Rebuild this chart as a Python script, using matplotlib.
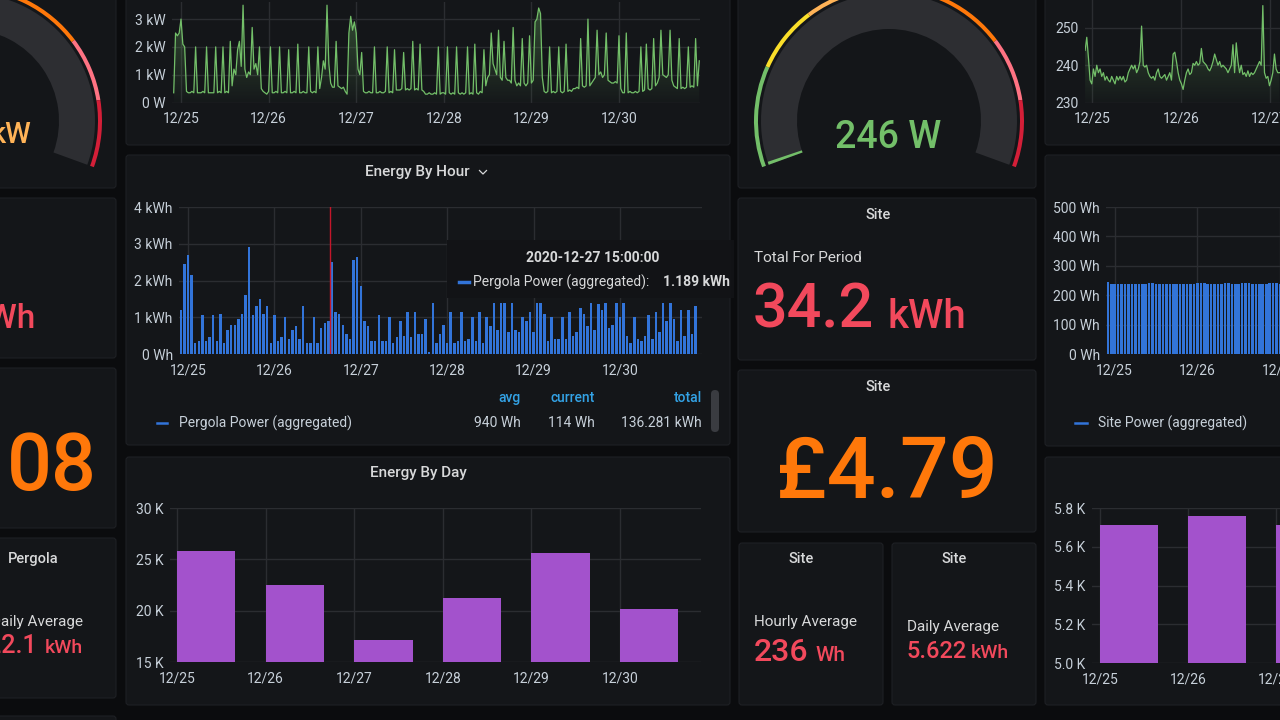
import numpy as np
import matplotlib
matplotlib.use("Agg")
import matplotlib.pyplot as plt
from matplotlib.patches import FancyBboxPatch, Wedge, Rectangle
from matplotlib.colors import to_rgb

plt.rcParams['font.family'] = ['Roboto', 'DejaVu Sans']

W, H = 1280, 720
BG = '#0b0c0e'
PANEL = '#141619'
BORDER = '#1e2024'
GRID = '#2b2d31'
TICK = '#c7d0d9'
TITLE = '#d8d9da'
GREEN = '#73bf69'
BLUE = '#3274d9'
PURPLE = '#a352cc'
RED = '#f2495c'
ORANGE = '#ff780a'
LORANGE = '#ffb357'
HEAD = '#33a2e5'

day_labels = ['12/25', '12/26', '12/27', '12/28', '12/29', '12/30']

# pergola power (kW), one reading every 30 min from 12/24 22:00
power_start_h = -2.0
power_kw = [
    0.35, 2.5, 2.4, 2.5,
    # 12/25
    3.0, 2.1, 2.0, 0.4, 0.35, 0.35, 0.4, 0.35, 2.0, 0.35, 0.35, 0.35,
    0.4, 0.35, 2.0, 0.35, 0.35, 0.35, 0.35, 2.0, 0.35, 0.4, 0.35, 2.0,
    0.35, 0.4, 0.35, 2.2, 0.6, 1.2, 1.0, 1.9, 2.2, 1.3, 3.5, 1.2,
    0.9, 1.1, 1.0, 2.7, 1.2, 1.4, 1.0, 2.0, 0.5, 0.4, 0.35, 0.3,
    # 12/26
    0.4, 2.0, 0.35, 0.35, 0.4, 0.35, 2.0, 0.35, 0.35, 0.4, 0.35, 1.9,
    0.35, 0.35, 0.4, 0.35, 2.1, 0.35, 0.35, 0.4, 0.35, 0.35, 2.0, 0.4,
    0.35, 0.4, 0.35, 2.0, 0.5, 0.9, 1.5, 1.2, 3.5, 1.4, 0.7, 0.55,
    0.55, 2.2, 0.6, 0.55, 0.5, 0.55, 0.4, 0.3, 2.5, 3.1, 2.6, 2.9,
    # 12/27
    2.5, 1.2, 1.0, 1.8, 0.4, 0.35, 0.35, 0.4, 0.35, 0.35, 2.0, 0.35,
    0.35, 0.4, 0.35, 0.35, 0.4, 2.0, 0.35, 0.4, 0.35, 1.9, 0.45, 0.45,
    0.45, 0.5, 1.8, 0.45, 0.5, 0.45, 0.5, 2.2, 0.45, 0.5, 0.45, 2.1,
    0.45, 0.4, 0.3, 0.3, 0.35, 0.3, 0.3, 0.35, 0.3, 2.0, 0.3, 0.35,
    # 12/28
    0.35, 0.3, 2.0, 0.35, 0.3, 0.35, 0.3, 2.0, 0.35, 0.3, 0.35, 0.3,
    0.35, 2.0, 0.3, 0.35, 0.3, 2.1, 0.35, 0.3, 0.4, 0.35, 1.9, 0.6,
    0.9, 1.0, 2.5, 1.4, 1.2, 1.0, 2.6, 0.9, 0.8, 2.2, 0.9, 0.8,
    0.8, 0.7, 2.7, 0.8, 0.6, 0.7, 0.6, 2.3, 0.7, 0.6, 0.7, 2.4,
    # 12/29
    0.7, 0.8, 2.9, 3.0, 3.4, 3.2, 0.9, 0.4, 0.35, 0.4, 2.0, 0.35,
    0.4, 0.35, 0.4, 2.0, 0.4, 0.35, 0.4, 2.1, 0.4, 0.45, 0.4, 0.5,
    0.5, 0.55, 0.5, 2.3, 0.6, 0.55, 0.6, 3.0, 0.6, 0.7, 0.8, 0.9,
    2.6, 1.0, 1.1, 0.9, 1.0, 2.5, 0.8, 0.75, 0.7, 0.7, 0.75, 0.7,
    # 12/30
    2.4, 0.5, 0.35, 0.35, 2.5, 0.35, 0.4, 0.35, 0.35, 0.4, 0.35, 0.4,
    2.0, 0.4, 0.45, 2.1, 0.5, 0.45, 0.5, 2.3, 0.6, 0.7, 0.9, 2.6,
    1.0, 0.95, 0.9, 1.0, 2.6, 0.8, 0.6, 0.55, 0.5, 2.3, 0.5, 0.55,
    0.5, 0.55, 2.0, 0.55, 0.6, 0.55, 2.3, 0.6, 1.5,
]

# pergola energy by hour (kWh), hourly from 12/24 22:00
hour_start_h = -2
hour_kwh = [
    1.2, 2.45, 2.7, 2.15, 0.3, 0.35, 1.05, 0.35, 0.45, 1.05,
    0.35, 1.1, 0.3, 0.65, 0.8, 0.8, 0.95, 1.1, 1.6, 2.9,
    1.05, 1.3, 1.5, 1.1, 1.3, 0.3, 1.05, 0.35, 0.45, 1.0,
    0.4, 0.65, 0.75, 0.4, 1.3, 0.3, 0.3, 1.0, 0.3, 0.7,
    0.85, 0.9, 2.5, 1.15, 1.1, 0.8, 0.55, 0.4, 2.55, 2.65,
    1.85, 0.9, 0.75, 0.35, 0.35, 1.05, 0.35, 0.35, 1.0, 0.3,
    0.45, 0.9, 0.5, 1.15, 0.45, 1.15, 0.55, 0.55, 0.95, 0.05,
    1.4, 0.3, 0.55, 0.8, 0.3, 1.15, 0.3, 0.35, 1.15, 0.35,
    0.4, 1.0, 0.35, 1.15, 0.3, 1.0, 0.75, 1.4, 0.65, 1.4,
    1.4, 0.6, 1.4, 0.65, 0.6, 1.0, 0.9, 1.15, 0.6, 1.4,
    1.4, 1.1, 0.35, 1.0, 0.4, 0.4, 1.0, 0.4, 1.15, 0.5,
    0.6, 1.25, 1.1, 0.75, 1.4, 0.65, 1.35, 1.2, 1.4, 0.7,
    0.8, 1.4, 1.0, 1.4, 0.5, 0.3, 1.0, 0.4, 0.35, 0.5,
    1.05, 0.4, 1.15, 0.6, 1.4, 0.9, 1.4, 0.95, 0.35, 1.2,
    0.5, 1.2, 0.55, 1.3,
]
cursor_h = 39.4

# pergola energy by day (Wh)
day_wh = [25800, 22500, 17100, 21200, 25600, 20200]

# site voltage (V), one reading every 27 min from 12/24 22:00
volt_start_h = -2.0
volt_step_h = 0.45
volts = [
    244, 247.5, 242, 236, 235, 239, 237, 240, 238, 239,
    237, 238, 236, 237, 236, 235.5, 237, 236, 235, 237,
    236, 237, 236, 237, 235.5, 236, 238, 239, 240, 239,
    240, 238, 239, 241, 250.5, 240, 239.5, 240, 238, 237,
    236.5, 237, 236, 238, 239, 237, 236.5, 237, 237.5, 236,
    237, 238, 236, 243, 243.5, 241, 238, 236, 235, 233.5,
    236, 238, 239, 237.5, 238, 240.5, 240, 241, 240, 240.5,
    244.5, 241, 240.5, 240, 239, 238.5, 239.5, 241, 243, 241.5,
    240, 241, 239.5, 240, 239.5, 239, 238, 239, 240, 245.5,
    238, 246, 241, 238, 240, 237.5, 238, 237, 238.5, 237,
    238, 237.5, 238, 239, 240, 241, 240, 256, 238, 236.5,
    237, 234.5, 236, 238, 243, 239, 238, 238,
]

# site energy by hour (Wh), hourly from 12/24 22:00
site_start_h = -2
site_wh = [
    244, 238, 238, 238, 238, 238, 238, 237, 237, 238,
    238, 239, 240, 241, 239, 238, 238, 238, 237, 237,
    238, 239, 239, 237, 238, 239, 240, 240, 240, 239,
    239, 239, 239, 239, 240, 240, 239, 238, 239, 240,
    241, 240, 239, 238, 238, 238, 239, 240, 243, 241,
    239, 238,
]

# site energy by day (Wh)
site_day_wh = [5710, 5760, 5710]

fig = plt.figure(figsize=(W / 100, H / 100), dpi=100, facecolor=BG)

base = fig.add_axes([0, 0, 1, 1])
base.set_xlim(0, W)
base.set_ylim(H, 0)
base.axis('off')

panels = [
    (-10, -10, 116, 188), (-10, 198, 116, 358), (-10, 368, 116, 528),
    (-10, 538, 116, 698), (-10, 716, 116, 740),
    (126, -10, 730, 145), (126, 155, 730, 445), (126, 457, 730, 705),
    (738, -10, 1036, 188), (738, 198, 1036, 360), (738, 370, 1036, 532),
    (739, 543, 883, 705), (892, 543, 1036, 705),
    (1045, -10, 1290, 145), (1045, 155, 1290, 446), (1045, 457, 1290, 705),
]
for x0, y0, x1, y1 in panels:
    base.add_patch(FancyBboxPatch((x0, y0), x1 - x0, y1 - y0,
                                  boxstyle='round,pad=0,rounding_size=3',
                                  fc=PANEL, ec=BORDER, lw=0.8))


def arc(cx, cy, r, width, lo, hi, color):
    # angles are screen angles (counter-clockwise, y axis points down here)
    base.add_patch(Wedge((cx, cy), r, -hi, -lo, width=width, fc=color, lw=0))


def gauge(cx, cy, fill_to, fill_color):
    bands = [(156, 200, GREEN), (127, 156, '#fade2a'), (90, 127, LORANGE),
             (37, 90, ORANGE), (9, 37, '#ff7383'), (-20, 9, '#d41f38')]
    for lo, hi, c in bands:
        arc(cx, cy, 135, 4, lo, hi, c)
    arc(cx, cy, 128, 36, -20, 200, '#2d2e32')
    arc(cx, cy, 128, 36, fill_to, 200, fill_color)


gauge(-33, 121, 115, LORANGE)
gauge(889, 121, 198.6, GREEN)


def chart(x0, y0, x1, y1):
    ax = fig.add_axes([x0 / W, 1 - y1 / H, (x1 - x0) / W, (y1 - y0) / H])
    ax.patch.set_alpha(0)
    for s in ax.spines.values():
        s.set_visible(False)
    ax.tick_params(length=0, labelsize=10, labelcolor=TICK)
    ax.tick_params(axis='y', pad=4.5)
    ax.tick_params(axis='x', pad=6.5)
    ax.grid(True, color=GRID, lw=1)
    ax.set_axisbelow(True)
    return ax


def gradient_fill(ax, x, y, color, y0, y1):
    poly = ax.fill_between(x, y, y0, facecolor='none', edgecolor='none')
    rgba = np.zeros((100, 1, 4))
    rgba[:, :, :3] = to_rgb(color)
    rgba[:, 0, 3] = np.linspace(0.02, 0.35, 100)
    im = ax.imshow(rgba, extent=[x[0], x[-1], y0, y1], origin='lower',
                   aspect='auto', zorder=1)
    im.set_clip_path(poly.get_paths()[0], transform=ax.transData)


# pergola power line
ax = chart(172, 2, 700, 102.5)
t = power_start_h + 0.5 * np.arange(len(power_kw))
gradient_fill(ax, t, power_kw, GREEN, 0, 3.6)
ax.plot(t, power_kw, color=GREEN, lw=0.9, zorder=2)
ax.set_xlim(-2.47, 142.2)
ax.set_ylim(0, 3.615)
ax.set_xticks(24 * np.arange(6), day_labels)
ax.set_yticks([0, 1, 2, 3], ['0 W', '1 kW', '2 kW', '3 kW'])

# energy by hour
ax = chart(179, 207, 702, 354)
hx = hour_start_h + np.arange(len(hour_kwh))
ax.bar(hx, hour_kwh, width=0.7, color=BLUE, zorder=2)
ax.axvline(cursor_h, color='#c4162a', lw=1, zorder=3)
ax.set_xlim(-2.5, 142.8)
ax.set_ylim(0, 4)
ax.set_xticks(24 * np.arange(6), day_labels)
ax.set_yticks([0, 1, 2, 3, 4], ['0 Wh', '1 kWh', '2 kWh', '3 kWh', '4 kWh'])

# energy by day
ax = chart(170, 508, 701, 662)
ax.bar(np.arange(len(day_wh)), day_wh, width=0.66, align='edge',
       color=PURPLE, zorder=2)
ax.set_xlim(-0.079, 5.914)
ax.set_ylim(15000, 30000)
ax.set_xticks(np.arange(6), day_labels)
ax.set_yticks([15000, 20000, 25000, 30000], ['15 K', '20 K', '25 K', '30 K'])

# site voltage
ax = chart(1085, 0, 1280, 102.5)
vt = volt_start_h + volt_step_h * np.arange(len(volts))
gradient_fill(ax, vt, volts, GREEN, 230, 257.5)
ax.plot(vt, volts, color=GREEN, lw=0.9, zorder=2)
ax.set_xlim(-2.03, 50.8)
ax.set_ylim(230, 257.5)
ax.set_xticks([0, 24, 48], day_labels[:3])
ax.set_yticks([230, 240, 250], ['230', '240', '250'])

# site power by hour
ax = chart(1106, 207, 1280, 354)
sx = site_start_h + np.arange(len(site_wh))
ax.bar(sx, site_wh, width=0.75, color=BLUE, zorder=2)
ax.set_xlim(-2.54, 46.6)
ax.set_ylim(0, 500)
ax.set_xticks([0, 24, 48], day_labels[:3])
ax.set_yticks([0, 100, 200, 300, 400, 500],
              ['0 Wh', '100 Wh', '200 Wh', '300 Wh', '400 Wh', '500 Wh'])

# site energy by day
ax = chart(1092, 508, 1280, 663)
ax.bar(np.arange(len(site_day_wh)), site_day_wh, width=0.66, align='edge',
       color=PURPLE, zorder=2)
ax.set_xlim(-0.09, 2.045)
ax.set_ylim(5000, 5800)
ax.set_xticks([0, 1, 2], day_labels[:3])
ax.set_yticks([5000, 5200, 5400, 5600, 5800],
              ['5.0 K', '5.2 K', '5.4 K', '5.6 K', '5.8 K'])

# overlay for texts and tooltip
top = fig.add_axes([0, 0, 1, 1], zorder=10)
top.set_xlim(0, W)
top.set_ylim(H, 0)
top.axis('off')
top.patch.set_alpha(0)


def txt(x, y, s, size, color=TITLE, ha='left', va='baseline', weight='normal'):
    top.text(x, y, s, fontsize=size, color=color, ha=ha, va=va, fontweight=weight)


# panel titles
txt(417.5, 172, 'Energy By Hour', 11, ha='center', va='center', weight='medium')
top.plot([479.5, 483, 486.5], [170.5, 174, 170.5], color=TITLE, lw=0.9)
txt(418, 473, 'Energy By Day', 11, ha='center', va='center', weight='medium')
for x, y, s in [(878, 215, 'Site'), (878, 387, 'Site'), (801, 559, 'Site'),
                (954, 559, 'Site'), (33, 559, 'Pergola')]:
    txt(x, y, s, 10.5, ha='center', va='center', weight='medium')

# gauges
V = 'medium'
txt(31, 143, 'kW', 21, color=LORANGE, ha='right', weight=V)
txt(888, 148, '246 W', 27, color=GREEN, ha='center', weight=V)

# stats
txt(754, 258, 'Total For Period', 11, va='center')
txt(753, 328, '34.2', 44, color=RED, weight=V)
txt(888, 328, 'kWh', 29, color=RED, weight=V)
txt(887, 498, '£4.79', 62, color=ORANGE, ha='center', weight=V)
txt(754, 626, 'Hourly Average', 11)
txt(754, 661, '236', 23, color=RED, weight=V)
txt(815, 661, 'Wh', 15, color=RED, weight=V)
txt(907, 631, 'Daily Average', 11)
txt(906, 658, '5.622', 17, color=RED, weight=V)
txt(971, 658, 'kWh', 14, color=RED, weight=V)
txt(35, 328, 'kWh', 24, color=RED, ha='right', weight=V)
txt(97, 490, '08', 57, color=ORANGE, ha='right', weight=V)
txt(83, 626, 'Daily Average', 11, ha='right')
txt(37, 653, '22.1', 18, color=RED, ha='right', weight=V)
txt(45, 653, 'kWh', 14, color=RED, weight=V)

# legend of energy by hour
for x, s in [(521, 'avg'), (595, 'current'), (702, 'total')]:
    txt(x, 398, s, 10, color=HEAD, ha='right', va='center', weight='medium')
for x, s in [(521, '940 Wh'), (595, '114 Wh'), (702, '136.281 kWh')]:
    txt(x, 423, s, 10, color=TICK, ha='right', va='center')
top.plot([157, 167], [423, 423], color=BLUE, lw=1.8)
txt(179, 423, 'Pergola Power (aggregated)', 10, color=TICK, va='center')
top.add_patch(FancyBboxPatch((711, 390), 8, 42, boxstyle='round,pad=0,rounding_size=4',
                             fc='#3a3c41', lw=0))

# legend of site power
top.plot([1075, 1087], [423, 423], color=BLUE, lw=1.8)
txt(1098, 423, 'Site Power (aggregated)', 10, color=TICK, va='center')

# tooltip
top.add_patch(Rectangle((447, 240), 287, 58, fc='#121316', ec='none', alpha=0.97))
txt(593, 258, '2020-12-27 15:00:00', 10, color=TITLE, ha='center', va='center', weight='bold')
top.plot([459, 469], [282, 282], color=BLUE, lw=2.5)
txt(473, 282, 'Pergola Power (aggregated):', 10, color=TITLE, va='center')
txt(730, 282, '1.189 kWh', 10, color=TITLE, ha='right', va='center', weight='bold')

fig.savefig('out.png', dpi=100, facecolor=BG)
